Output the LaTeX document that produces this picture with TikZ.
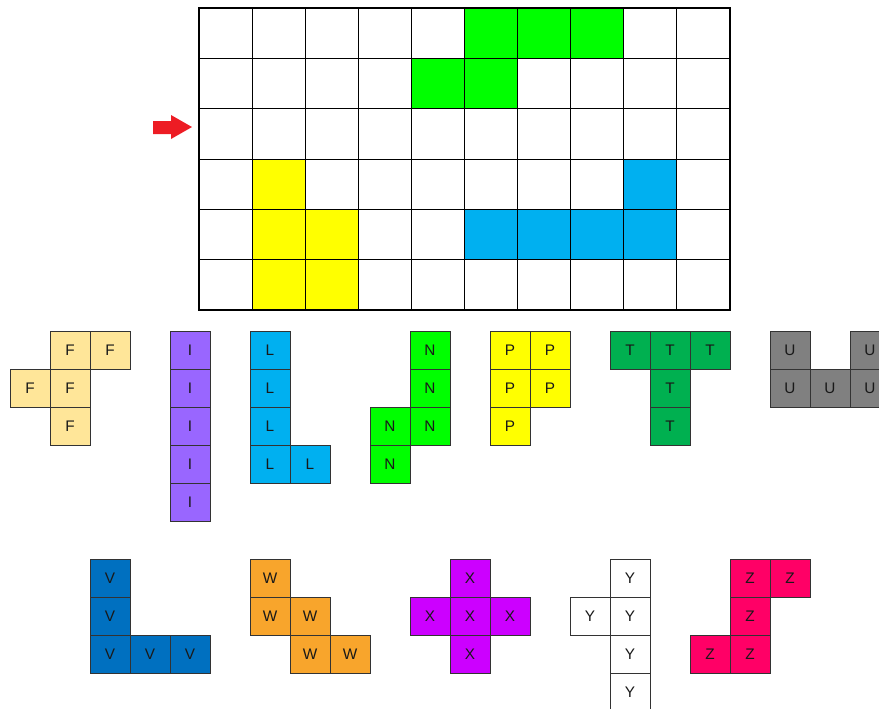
\documentclass[tikz,border=0pt]{standalone}
\usepackage{fontspec}
\setmainfont{Liberation Sans}
\begin{document}
\begin{tikzpicture}[x=0.75pt,y=-0.75pt,
  cell/.style={draw=black!80,line width=0.75pt,minimum width=30pt,minimum height=28.5pt,inner sep=0pt,font=\fontsize{11.5}{12}\selectfont,text=black!90},
  gline/.style={draw=black,line width=0.75pt},
  gfill/.style={draw=none}]
\definecolor{cF}{HTML}{FFE699}
\definecolor{cI}{HTML}{9966FF}
\definecolor{cL}{HTML}{00B0F0}
\definecolor{cN}{HTML}{00FF00}
\definecolor{cP}{HTML}{FFFF00}
\definecolor{cT}{HTML}{00B050}
\definecolor{cU}{HTML}{808080}
\definecolor{cV}{HTML}{0070C0}
\definecolor{cW}{HTML}{F8A52C}
\definecolor{cX}{HTML}{CC00FF}
\definecolor{cY}{HTML}{FFFFFF}
\definecolor{cZ}{HTML}{FF0066}
\definecolor{cArrow}{HTML}{ED1C24}
\useasboundingbox (0,0) rectangle (879,708);
% board
\def\gw{53.1}\def\gh{50.333}
\foreach \c/\r/\col in {5/0/cN,6/0/cN,7/0/cN,4/1/cN,5/1/cN,
  1/3/cP,1/4/cP,2/4/cP,1/5/cP,2/5/cP,
  8/3/cL,5/4/cL,6/4/cL,7/4/cL,8/4/cL}
  \fill[\col] (199+\c*\gw,8+\r*\gh) rectangle ++(\gw,\gh);
\foreach \c in {1,...,9} \draw[gline] (199+\c*\gw,8) -- (199+\c*\gw,310);
\foreach \r in {1,...,5} \draw[gline] (199,8+\r*\gh) -- (730,8+\r*\gh);
\draw[line width=1.5pt] (199,8) rectangle (730,310);
% arrow
\fill[cArrow] (153,121) -- (171,121) -- (171,115) -- (192,127) -- (171,139) -- (171,134) -- (153,134) -- cycle;
% pieces
\foreach \x/\y [count=\i] in {50/331,90/331,10/369,50/369,50/407}
  \node[cell,fill=cF] (F\i) at (\x+20,\y+19) {F};
\foreach \x/\y [count=\i] in {170/331,170/369,170/407,170/445,170/483}
  \node[cell,fill=cI] (I\i) at (\x+20,\y+19) {I};
\foreach \x/\y [count=\i] in {250/331,250/369,250/407,250/445,290/445}
  \node[cell,fill=cL] (L\i) at (\x+20,\y+19) {L};
\foreach \x/\y [count=\i] in {410/331,410/369,370/407,410/407,370/445}
  \node[cell,fill=cN] (N\i) at (\x+20,\y+19) {N};
\foreach \x/\y [count=\i] in {490/331,530/331,490/369,530/369,490/407}
  \node[cell,fill=cP] (P\i) at (\x+20,\y+19) {P};
\foreach \x/\y [count=\i] in {610/331,650/331,690/331,650/369,650/407}
  \node[cell,fill=cT] (T\i) at (\x+20,\y+19) {T};
\foreach \x/\y [count=\i] in {770/331,850/331,770/369,810/369,850/369}
  \node[cell,fill=cU] (U\i) at (\x+20,\y+19) {U};
\foreach \x/\y [count=\i] in {90/559,90/597,90/635,130/635,170/635}
  \node[cell,fill=cV] (V\i) at (\x+20,\y+19) {V};
\foreach \x/\y [count=\i] in {250/559,250/597,290/597,290/635,330/635}
  \node[cell,fill=cW] (W\i) at (\x+20,\y+19) {W};
\foreach \x/\y [count=\i] in {450/559,410/597,450/597,490/597,450/635}
  \node[cell,fill=cX] (X\i) at (\x+20,\y+19) {X};
\foreach \x/\y [count=\i] in {610/559,570/597,610/597,610/635,610/673}
  \node[cell,fill=cY] (Y\i) at (\x+20,\y+19) {Y};
\foreach \x/\y [count=\i] in {730/559,770/559,730/597,690/635,730/635}
  \node[cell,fill=cZ] (Z\i) at (\x+20,\y+19) {Z};
\end{tikzpicture}
\end{document}
